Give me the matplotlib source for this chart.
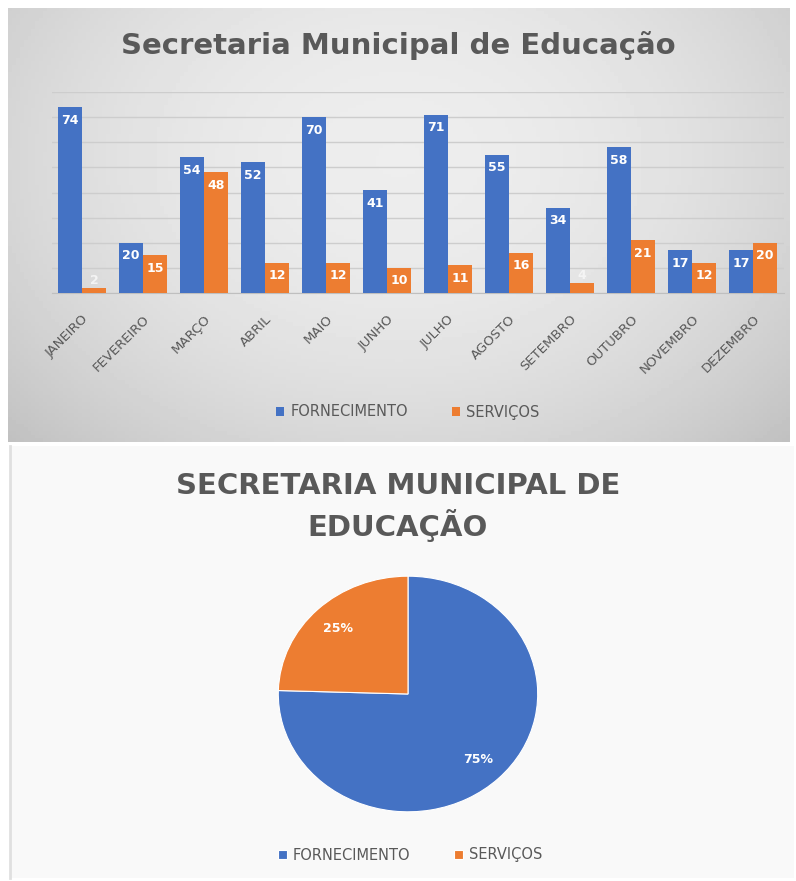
import numpy as np
import matplotlib.pyplot as plt

# Dados
meses = ['JANEIRO', 'FEVEREIRO', 'MARÇO', 'ABRIL', 'MAIO', 'JUNHO',
         'JULHO', 'AGOSTO', 'SETEMBRO', 'OUTUBRO', 'NOVEMBRO', 'DEZEMBRO']
fornecimento = [74, 20, 54, 52, 70, 41, 71, 55, 34, 58, 17, 17]
servicos = [2, 15, 48, 12, 12, 10, 11, 16, 4, 21, 12, 20]
series = ['FORNECIMENTO', 'SERVIÇOS']

azul = '#4472C4'
laranja = '#ED7D31'
cinza = '#595959'

fig = plt.figure(figsize=(7.96, 8.81), dpi=100)
fig.patch.set_facecolor('white')

# fundo cinza (degrade) do primeiro grafico
bg = fig.add_axes([8 / 796, 1 - 442 / 881, 782 / 796, 434 / 881], zorder=-2)
gx, gy = np.meshgrid(np.linspace(-1, 1, 200), np.linspace(-1, 1, 120))
grad = 0.93 - 0.09 * (gx ** 2) - 0.05 * (gy + 0.3) ** 2
bg.imshow(grad, cmap='gray', vmin=0, vmax=1, aspect='auto', extent=(0, 1, 0, 1))
bg.set_xticks([])
bg.set_yticks([])
for s in bg.spines.values():
    s.set_visible(False)

# fundo do segundo grafico
bg2 = fig.add_axes([10 / 796, 1 - 878 / 881, 784 / 796, 432 / 881], zorder=-2)
bg2.set_facecolor('#f9f9f9')
bg2.set_xticks([])
bg2.set_yticks([])
for s in bg2.spines.values():
    s.set_visible(False)
bg2.spines['left'].set_visible(True)
bg2.spines['left'].set_color('#e0e0e0')
bg2.spines['left'].set_linewidth(2)

# Grafico de barras
ax = fig.add_axes([0.0647, 0.6674, 0.9196, 0.228])
ax.set_facecolor('none')
x = np.arange(len(meses))
w = 0.39
b1 = ax.bar(x - w / 2, fornecimento, w, color=azul, label=series[0], zorder=3)
b2 = ax.bar(x + w / 2, servicos, w, color=laranja, label=series[1], zorder=3)
for barras, valores in [(b1, fornecimento), (b2, servicos)]:
    grandes = [str(v) if v >= 6 else '' for v in valores]
    pequenos = [str(v) if v < 6 else '' for v in valores]
    ax.bar_label(barras, labels=grandes, padding=-14, color='white', fontsize=9,
                 fontweight='bold', zorder=4)
    ax.bar_label(barras, labels=pequenos, padding=1, color='#f4f4f4', fontsize=9,
                 fontweight='bold', zorder=4)
ax.set_xlim(-0.5, len(meses) - 0.5)
ax.set_ylim(0, 80)
ax.set_yticks(np.arange(0, 81, 10))
ax.yaxis.grid(True, color='#cdcdcd', linewidth=1, zorder=0)
ax.tick_params(axis='y', left=False, labelleft=False)
ax.tick_params(axis='x', length=0, pad=14)
ax.set_xticks(x)
ax.set_xticklabels(meses, rotation=45, ha='right', rotation_mode='anchor',
                   fontsize=9.5, color=cinza)
for s in ['left', 'right', 'top']:
    ax.spines[s].set_visible(False)
ax.spines['bottom'].set_color('#bfbfbf')

fig.text(0.5, 1 - 45 / 881, 'Secretaria Municipal de Educação', ha='center', va='center',
         fontsize=21, fontweight='bold', color=cinza)
fig.legend(handles=[b1, b2], labels=series, loc='center', ncol=2,
           bbox_to_anchor=(0.512, 1 - 412 / 881), frameon=False, fontsize=10.5,
           labelcolor=cinza, handlelength=0.6, handleheight=0.6, columnspacing=3,
           handletextpad=0.4)

# Grafico de pizza
totais = [sum(fornecimento), sum(servicos)]
ax2 = fig.add_axes([(408 - 131) / 796, 1 - (694 + 119) / 881, 262 / 796, 238 / 881])
wedges, _, autotexts = ax2.pie(totais, colors=[azul, laranja], startangle=90,
                               counterclock=False, autopct='%1.0f%%', pctdistance=0.78,
                               wedgeprops=dict(edgecolor='white', linewidth=0.8))
for t in autotexts:
    t.set_color('white')
    t.set_fontsize(9)
    t.set_fontweight('bold')
ax2.set_xlim(-1.01, 1.01)
ax2.set_ylim(-1.01, 1.01)
ax2.set_aspect('auto')

fig.text(0.5, 1 - 507 / 881, 'SECRETARIA MUNICIPAL DE\nEDUCAÇÃO', ha='center', va='center',
         fontsize=21, fontweight='bold', color=cinza, linespacing=1.3)
fig.legend(handles=wedges, labels=series, loc='center', ncol=2,
           bbox_to_anchor=(0.515, 1 - 855 / 881), frameon=False, fontsize=10.5,
           labelcolor=cinza, handlelength=0.6, handleheight=0.6, columnspacing=3,
           handletextpad=0.4)

fig.savefig('out.png', dpi=100)
